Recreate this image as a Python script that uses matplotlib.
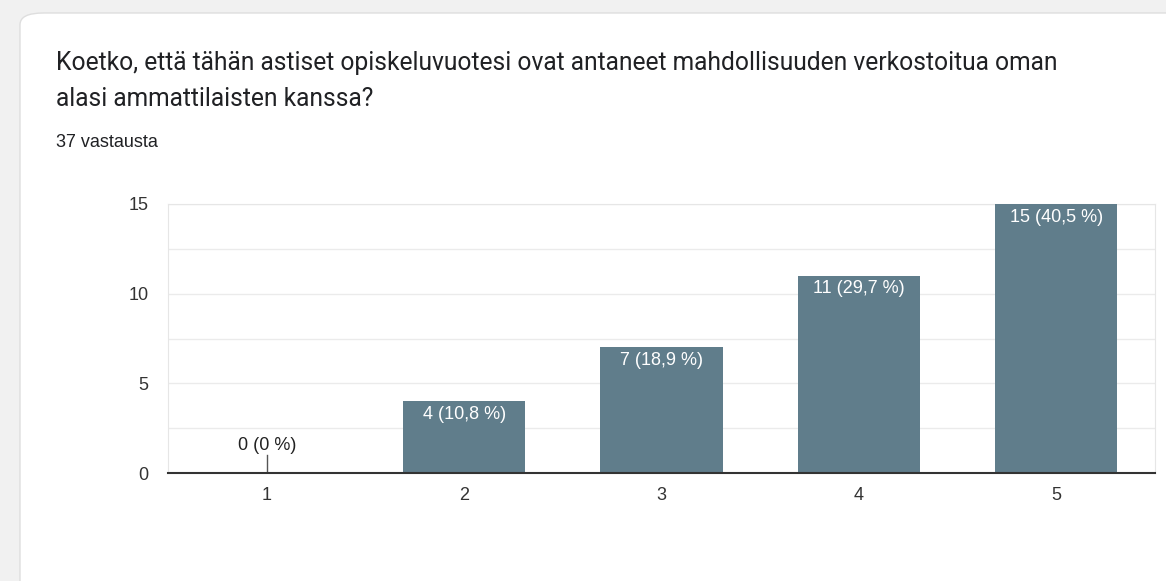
import matplotlib
matplotlib.use('Agg')
import matplotlib.pyplot as plt
from matplotlib.patches import FancyBboxPatch

# Survey answers (scale 1-5)
categories = ['1', '2', '3', '4', '5']
counts = [0, 4, 7, 11, 15]
percents = ['0', '10,8', '18,9', '29,7', '40,5']
total = 37

title_lines = ['Koetko, että tähän astiset opiskeluvuotesi ovat antaneet mahdollisuuden verkostoitua oman',
               'alasi ammattilaisten kanssa?']
subtitle = f'{total} vastausta'

W, H = 1166, 581
fig = plt.figure(figsize=(W / 100, H / 100), dpi=100)
fig.patch.set_facecolor('#f1f1f1')

# white card behind the chart
card = FancyBboxPatch((20 / W, -0.05), 1.2, (H - 13) / H + 0.05,
                      boxstyle='round,pad=0,rounding_size=0.02',
                      transform=fig.transFigure, facecolor='white',
                      edgecolor='#dedede', linewidth=1, zorder=-5)
fig.patches.append(card)

for i, line in enumerate(title_lines):
    fig.text(56 / W, 1 - (70 + 36 * i) / H, line, fontsize=17.7, family='Roboto',
             color='#202124', va='baseline', ha='left')
fig.text(56 / W, 1 - 147 / H, subtitle, fontsize=13, family='Liberation Sans', color='#202124',
         va='baseline', ha='left')

left, right, top, base = 168, 1155, 204, 473
ax = fig.add_axes([left / W, 1 - base / H, (right - left) / W, (base - top) / H])
ax.set_facecolor('none')

x = list(range(len(categories)))
bar_color = '#607d8b'
ax.bar(x, counts, width=0.62, color=bar_color, zorder=3)

for xi, c, p in zip(x, counts, percents):
    label = f'{c} ({p} %)'
    if c > 0:
        ax.annotate(label, (xi, c), xytext=(0, -13), textcoords='offset pixels',
                    ha='center', va='center', color='white', fontsize=13,
                    family='Liberation Sans', zorder=4)
    else:
        ax.plot([xi, xi], [0, 1.0], color='#555555', lw=1, zorder=3)
        ax.annotate(label, (xi, 0), xytext=(0, 28), textcoords='offset pixels',
                    ha='center', va='center', color='#222222', fontsize=13,
                    family='Liberation Sans', zorder=4)

ax.set_xlim(-0.5, len(categories) - 0.5)
ax.set_ylim(0, 15)
ax.set_yticks([0, 5, 10, 15])
ax.set_yticks([2.5, 7.5, 12.5], minor=True)
ax.set_xticks(x)
ax.set_xticklabels(categories)
ax.grid(axis='y', which='both', color='#ebebeb', linewidth=1, zorder=0)
ax.tick_params(axis='both', which='both', length=0, labelsize=13, colors='#333333')
ax.tick_params(axis='y', pad=14)
ax.tick_params(axis='x', pad=10)
for lbl in ax.get_xticklabels() + ax.get_yticklabels():
    lbl.set_family('Liberation Sans')

for side in ['left', 'right', 'top']:
    ax.spines[side].set_color('#e6e6e6')
ax.spines['bottom'].set_color('#333333')
ax.spines['bottom'].set_linewidth(1.5)
ax.spines['bottom'].set_zorder(5)

fig.savefig('out.png', dpi=100, facecolor=fig.get_facecolor())
